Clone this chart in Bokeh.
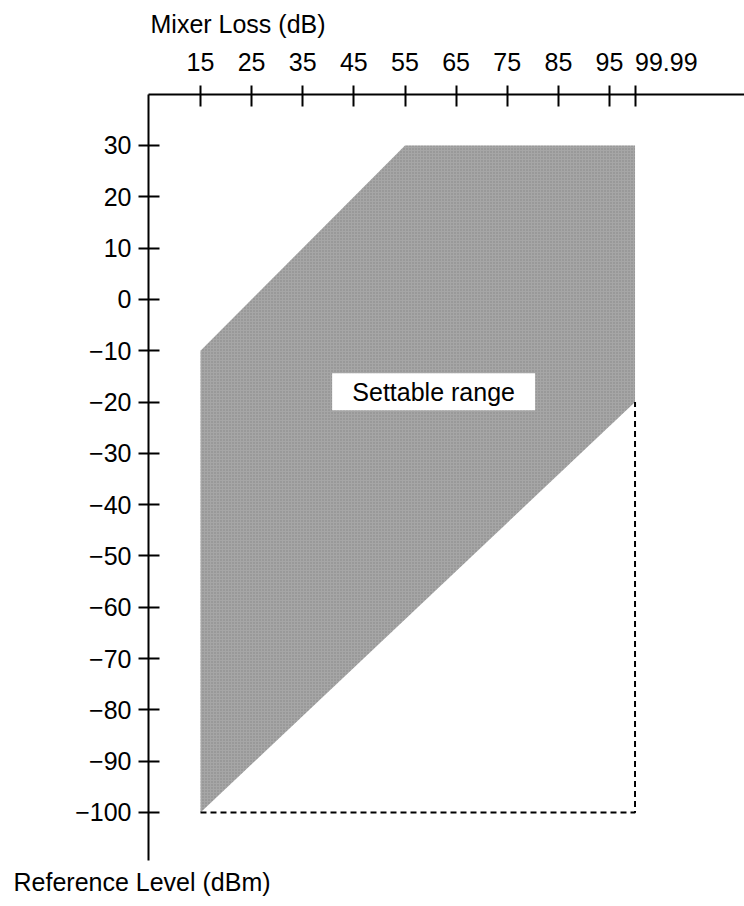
from bokeh.plotting import figure
from bokeh.models import Range1d, FixedTicker, Label, Title
from bokeh.embed import file_html
from bokeh.resources import INLINE

# ---- data ----
mixer_loss_ticks = [15, 25, 35, 45, 55, 65, 75, 85, 95, 99.99]
mixer_loss_labels = ["15", "25", "35", "45", "55", "65", "75", "85", "95", "99.99"]

ref_level_ticks = [30, 20, 10, 0, -10, -20, -30, -40, -50, -60, -70, -80, -90, -100]
ref_level_labels = ["30", "20", "10", "0", "\u221210", "\u221220", "\u221230", "\u221240",
                    "\u221250", "\u221260", "\u221270", "\u221280", "\u221290", "\u2212100"]

# settable range polygon (mixer loss dB, reference level dBm)
region_loss = [15, 55, 99.99, 99.99, 15]
region_level = [-10, 30, 30, -20, -100]

# dashed boundary
bound_loss = [15, 99.99, 99.99]
bound_level = [-100, -100, -20]

region_label = "Settable range"
label_loss, label_level = 60.6, -18.0

x_title = "Mixer Loss (dB)"
y_title = "Reference Level (dBm)"

FONT = "Liberation Sans"
FS = "25px"

p = figure(width=744, height=906,
           x_range=Range1d(4.83, 121.4), y_range=Range1d(-109.36, 39.94),
           x_axis_location="above",
           output_backend="svg", toolbar_location=None,
           min_border_left=148, min_border_top=94, min_border_right=0, min_border_bottom=46)

p.title = Title(text=x_title, align="left", offset=2, standoff=14,
                text_font=FONT, text_font_size=FS, text_font_style="normal", text_color="black")
p.add_layout(Title(text=y_title, align="left", offset=-135, standoff=10,
                   text_font=FONT, text_font_size=FS, text_font_style="normal",
                   text_color="black"), "below")

p.xgrid.visible = False
p.ygrid.visible = False
p.outline_line_color = None
p.background_fill_color = "white"
p.border_fill_color = "white"

p.patch(region_loss, region_level, fill_color="#a6a6a6", line_color=None,
        hatch_pattern="dot", hatch_color="#6e6e6e", hatch_scale=3, hatch_alpha=0.6)
p.line(bound_loss, bound_level, line_color="black", line_width=2, line_dash="6 4")

p.rect(x=[label_loss], y=[label_level], width=203, height=37,
       width_units="screen", height_units="screen", fill_color="white", line_color=None)
p.add_layout(Label(x=label_loss, y=label_level, text=region_label, text_align="center",
                   text_baseline="middle", text_font=FONT, text_font_size=FS, text_color="black"))

# axes
xa = p.xaxis[0]
xa.ticker = FixedTicker(ticks=mixer_loss_ticks)
# last label starts at its tick in the original: pad it on the left
xlabels = list(mixer_loss_labels)
xlabels[-1] = "\u00a0" * 9 + xlabels[-1]
xa.major_label_overrides = {t: l for t, l in zip(mixer_loss_ticks, xlabels)}
xa.major_tick_out = 9
xa.major_tick_in = 12
xa.major_label_standoff = 10

ya = p.yaxis[0]
ya.ticker = FixedTicker(ticks=ref_level_ticks)
ya.major_label_overrides = {t: l for t, l in zip(ref_level_ticks, ref_level_labels)}
ya.major_tick_out = 10
ya.major_tick_in = 11
ya.major_label_standoff = 7

for ax in (xa, ya):
    ax.axis_line_width = 2
    ax.axis_line_color = "black"
    ax.major_tick_line_width = 2
    ax.major_tick_line_color = "black"
    ax.minor_tick_line_color = None
    ax.major_label_text_font = FONT
    ax.major_label_text_font_size = FS
    ax.major_label_text_color = "black"

open("out.html", "w").write(file_html(p, INLINE))
